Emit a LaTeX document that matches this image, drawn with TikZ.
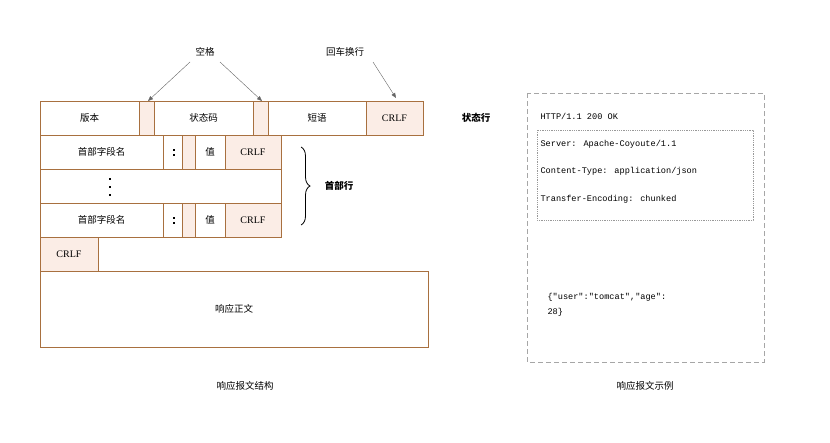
\documentclass[tikz,border=0pt]{standalone}
\usepackage{fontspec}
\setmainfont{Noto Sans CJK SC}
\newfontfamily\monof{Liberation Mono}
\newfontfamily\serf{Liberation Serif}
\usetikzlibrary{decorations.pathreplacing,arrows.meta}
\definecolor{bd}{HTML}{A8703F}
\definecolor{pf}{HTML}{FBEDE6}
\begin{document}
\begin{tikzpicture}[x=1pt,y=-1pt,font=\fontsize{9.5}{11}\selectfont,
 bx/.style={draw=bd,line width=0.8pt},
 fb/.style={draw=bd,line width=0.8pt,fill=pf},
 cf/.style={font=\serf\fontsize{10}{11}\selectfont},
 ar/.style={draw=gray!80!black,-{Triangle[length=5pt,width=4pt]}},
 mt/.style={font=\monof\fontsize{8.6}{10}\selectfont,anchor=west}]
\useasboundingbox (0,0) rectangle (830,442);
% row1
\draw[bx] (40,101) rectangle (139,135); \node (v) at (89.5,118) {版本};
\draw[fb] (139,101) rectangle (154,135); \coordinate (s1) at (148,101);
\draw[bx] (154,101) rectangle (253,135); \node (sc) at (203.5,118) {状态码};
\draw[fb] (253,101) rectangle (268,135); \coordinate (s2) at (262,101);
\draw[bx] (268,101) rectangle (366,135); \node (ph) at (317,118) {短语};
\draw[fb] (366,101) rectangle (423,135); \node[cf] (c1) at (394.5,118) {CRLF};
% header rows
\foreach \y/\n in {135/a,203/b}{
 \draw[bx] (40,\y) rectangle (163,\y+34); \node (h\n) at (101.5,\y+17) {首部字段名};
 \draw[bx] (163,\y) rectangle (182,\y+34);
 \fill (172.5,\y+13.5) rectangle +(2.2,2.2); \fill (172.5,\y+19) rectangle +(2.2,2.2);
 \draw[fb] (182,\y) rectangle (195,\y+34);
 \draw[bx] (195,\y) rectangle (225,\y+34); \node (z\n) at (210,\y+17) {值};
 \draw[fb] (225,\y) rectangle (281,\y+34); \node[cf] (r\n) at (253,\y+17) {CRLF};
}
\draw[bx] (40,169) rectangle (281,203);
\foreach \yy in {178,186,194} \fill (108.5,\yy) rectangle +(2.2,2.2);
\draw[fb] (40,237) rectangle (98,271); \node[cf] (c5) at (69,254) {CRLF};
\draw[bx] (40,271) rectangle (428,347); \node (body) at (234,309) {响应正文};
% labels
\node (sp) at (205,52) {空格};
\node (cr) at (345,52) {回车换行};
\draw[ar] (190,62) -- (s1);
\draw[ar] (220,62) -- (s2);
\draw[ar] (373,62) -- (396,98);
\node[font=\fontsize{9.5}{11}\selectfont\bfseries] (sl) at (476,118) {状态行};
\draw[decorate,decoration={brace,amplitude=9pt},line width=0.8pt] (301,147) -- (301,225);
\node[font=\fontsize{9.5}{11}\selectfont\bfseries] (hl) at (339,186) {首部行};
\node (cap1) at (245,386) {响应报文结构};
\node (cap2) at (645,386) {响应报文示例};
% right
\draw[gray!70,line width=0.8pt,dash pattern=on 5pt off 3pt] (527,93) rectangle (764,362);
\draw[gray!80,densely dotted,line width=0.8pt] (537,130) rectangle (753,220);
\node[mt] (t1) at (537,116) {HTTP/1.1 200 OK};
\node[mt] (t2) at (537,144) {Server: Apache-Coyoute/1.1};
\node[mt] (t3) at (537,171) {Content-Type: application/json};
\node[mt] (t4) at (537,199) {Transfer-Encoding: chunked};
\node[mt] (t5) at (544,297) {\{"user":"tomcat","age":};
\node[mt] (t6) at (544,312) {28\}};
\end{tikzpicture}
\end{document}
